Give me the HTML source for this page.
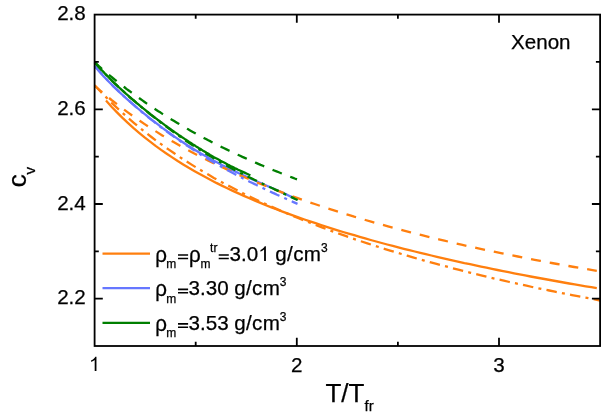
<!DOCTYPE html>
<html><head><meta charset="utf-8"><title>Xenon c_v</title>
<style>html,body{margin:0;padding:0;background:#fff}body{width:602px;height:417px;overflow:hidden;font-family:"Liberation Sans",sans-serif}</style></head>
<body>
<svg width="602" height="417" viewBox="0 0 602 417" style="display:block;will-change:transform">
<g fill="none" stroke-linecap="butt" stroke-linejoin="round">
<path d="M106.0,100.6 L111.5,106.7 L117.0,112.4 L122.5,117.9 L128.1,123.1 L133.6,128.1 L139.1,132.8 L144.6,137.4 L150.1,141.7 L155.6,145.9 L161.1,149.9 L166.7,153.7 L172.2,157.4 L177.7,161.0 L183.2,164.4 L188.7,167.8 L194.2,171.0 L199.7,174.1 L205.3,177.1 L210.8,180.0 L216.3,182.9 L221.8,185.6 L227.3,188.3 L232.8,190.9 L238.4,193.4 L243.9,195.9 L249.4,198.3 L254.9,200.6 L260.4,202.9 L265.9,205.2 L271.4,207.4 L277.0,209.5 L282.5,211.6 L288.0,213.6 L293.5,215.6 L299.0,217.6 L304.5,219.5 L310.0,221.4 L315.6,223.2 L321.1,225.0 L326.6,226.8 L332.1,228.6 L337.6,230.3 L343.1,232.0 L348.6,233.6 L354.2,235.2 L359.7,236.8 L365.2,238.4 L370.7,240.0 L376.2,241.5 L381.7,243.0 L387.2,244.5 L392.8,245.9 L398.3,247.4 L403.8,248.8 L409.3,250.2 L414.8,251.5 L420.3,252.9 L425.8,254.2 L431.4,255.5 L436.9,256.8 L442.4,258.1 L447.9,259.4 L453.4,260.6 L458.9,261.8 L464.4,263.1 L470.0,264.2 L475.5,265.4 L481.0,266.6 L486.5,267.7 L492.0,268.9 L497.5,270.0 L503.1,271.1 L508.6,272.2 L514.1,273.3 L519.6,274.4 L525.1,275.4 L530.6,276.5 L536.1,277.5 L541.7,278.5 L547.2,279.5 L552.7,280.5 L558.2,281.5 L563.7,282.5 L569.2,283.5 L574.7,284.4 L580.3,285.3 L585.8,286.3 L591.3,287.2 L596.8,288.1" stroke="#ff7f0e" stroke-width="2.3"/>
<path d="M94.6,85.2 L100.3,91.3 L106.0,97.1 L111.6,102.8 L117.3,108.2 L123.0,113.4 L128.7,118.5 L134.4,123.3 L140.1,128.0 L145.7,132.6 L151.4,137.0 L157.1,141.3 L162.8,145.4 L168.5,149.4 L174.2,153.3 L179.8,157.1 L185.5,160.8 L191.2,164.4 L196.9,167.9 L202.6,171.3 L208.3,174.6 L213.9,177.9 L219.6,181.0 L225.3,184.1 L231.0,187.1 L236.7,190.0 L242.4,192.9 L248.0,195.7 L253.7,198.5 L259.4,201.2 L265.1,203.8 L270.8,206.4 L276.5,208.9 L282.1,211.4 L287.8,213.8 L293.5,216.2 L299.2,218.5 L304.9,220.8 L310.6,223.0 L316.2,225.2 L321.9,227.4 L327.6,229.5 L333.3,231.6 L339.0,233.7 L344.7,235.7 L350.3,237.6 L356.0,239.6 L361.7,241.5 L367.4,243.4 L373.1,245.2 L378.8,247.0 L384.4,248.8 L390.1,250.6 L395.8,252.3 L401.5,254.0 L407.2,255.7 L412.9,257.3 L418.5,259.0 L424.2,260.6 L429.9,262.2 L435.6,263.7 L441.3,265.2 L447.0,266.7 L452.6,268.2 L458.3,269.7 L464.0,271.1 L469.7,272.6 L475.4,274.0 L481.1,275.3 L486.7,276.7 L492.4,278.1 L498.1,279.4 L503.8,280.7 L509.5,282.0 L515.2,283.2 L520.8,284.5 L526.5,285.7 L532.2,287.0 L537.9,288.2 L543.6,289.4 L549.3,290.5 L554.9,291.7 L560.6,292.8 L566.3,294.0 L572.0,295.1 L577.7,296.2 L583.4,297.3 L589.0,298.3 L594.7,299.4 L600.4,300.5" stroke="#ff7f0e" stroke-width="2.3" stroke-dasharray="10.5 5.25 3 5.25"/>
<path d="M94.6,65.8 L96.9,68.6 L99.2,71.3 L101.4,73.8 L103.7,76.4 L106.0,78.8 L108.3,81.2 L110.6,83.5 L112.8,85.8 L115.1,88.0 L117.4,90.2 L119.7,92.4 L122.0,94.5 L124.3,96.6 L126.5,98.6 L128.8,100.7 L131.1,102.7 L133.4,104.6 L135.7,106.6 L137.9,108.5 L140.2,110.4 L142.5,112.3 L144.8,114.2 L147.1,116.0 L149.3,117.9 L151.6,119.7 L153.9,121.4 L156.2,123.2 L158.5,124.9 L160.7,126.7 L163.0,128.4 L165.3,130.0 L167.6,131.7 L169.9,133.3 L172.2,135.0 L174.4,136.6 L176.7,138.1 L179.0,139.7 L181.3,141.2 L183.6,142.7 L185.8,144.2 L188.1,145.7 L190.4,147.1 L192.7,148.5 L195.0,149.9 L197.2,151.3 L199.5,152.7 L201.8,154.0 L204.1,155.3 L206.4,156.6 L208.6,157.9 L210.9,159.2 L213.2,160.4 L215.5,161.6 L217.8,162.8 L220.0,164.0 L222.3,165.2 L224.6,166.3 L226.9,167.5 L229.2,168.6 L231.5,169.7 L233.7,170.8 L236.0,171.9 L238.3,173.0 L240.6,174.0 L242.9,175.1 L245.1,176.1 L247.4,177.2 L249.7,178.2 L252.0,179.2 L254.3,180.2 L256.5,181.2 L258.8,182.3 L261.1,183.3 L263.4,184.3 L265.7,185.3 L267.9,186.3 L270.2,187.3 L272.5,188.3 L274.8,189.3 L277.1,190.3 L279.4,191.3 L281.6,192.4 L283.9,193.4 L286.2,194.4 L288.5,195.5 L290.8,196.6 L293.0,197.6 L295.3,198.7 L297.6,199.8" stroke="#6677ff" stroke-width="2.3"/>
<path d="M94.6,85.7 L100.2,90.6 L105.9,95.4 L111.5,100.0 L117.2,104.4 L122.8,108.7 L128.5,112.9 L134.1,116.9 L139.7,120.8 L145.4,124.6 L151.0,128.3 L156.7,131.9 L162.3,135.4 L168.0,138.8 L173.6,142.1 L179.2,145.3 L184.9,148.4 L190.5,151.4 L196.2,154.4 L201.8,157.3 L207.5,160.2 L213.1,162.9 L218.7,165.6 L224.4,168.3 L230.0,170.9 L235.7,173.4 L241.3,175.9 L247.0,178.3 L252.6,180.7 L258.2,183.0 L263.9,185.3 L269.5,187.6 L275.2,189.8 L280.8,191.9 L286.5,194.0 L292.1,196.1 L297.7,198.2 L303.4,200.2 L309.0,202.1 L314.7,204.0 L320.3,205.9 L326.0,207.8 L331.6,209.6 L337.2,211.4 L342.9,213.2 L348.5,214.9 L354.2,216.7 L359.8,218.3 L365.4,220.0 L371.1,221.6 L376.7,223.2 L382.4,224.8 L388.0,226.4 L393.7,227.9 L399.3,229.4 L404.9,230.9 L410.6,232.4 L416.2,233.8 L421.9,235.2 L427.5,236.6 L433.2,238.0 L438.8,239.4 L444.4,240.7 L450.1,242.0 L455.7,243.3 L461.4,244.6 L467.0,245.9 L472.7,247.1 L478.3,248.4 L483.9,249.6 L489.6,250.8 L495.2,251.9 L500.9,253.1 L506.5,254.3 L512.2,255.4 L517.8,256.5 L523.4,257.6 L529.1,258.7 L534.7,259.8 L540.4,260.9 L546.0,261.9 L551.7,263.0 L557.3,264.0 L562.9,265.0 L568.6,266.0 L574.2,267.0 L579.9,268.0 L585.5,268.9 L591.2,269.9 L596.8,270.8" stroke="#ff7f0e" stroke-width="2.3" stroke-dasharray="10 9"/>
<path d="M94.6,66.0 L96.9,68.6 L99.2,71.2 L101.4,73.7 L103.7,76.2 L106.0,78.6 L108.3,81.0 L110.6,83.3 L112.8,85.6 L115.1,87.9 L117.4,90.1 L119.7,92.3 L122.0,94.4 L124.2,96.5 L126.5,98.6 L128.8,100.7 L131.1,102.7 L133.4,104.7 L135.6,106.7 L137.9,108.6 L140.2,110.6 L142.5,112.5 L144.8,114.4 L147.0,116.2 L149.3,118.1 L151.6,119.9 L153.9,121.7 L156.2,123.5 L158.4,125.2 L160.7,127.0 L163.0,128.7 L165.3,130.4 L167.6,132.1 L169.8,133.7 L172.1,135.4 L174.4,137.0 L176.7,138.6 L179.0,140.2 L181.2,141.8 L183.5,143.3 L185.8,144.9 L188.1,146.4 L190.4,147.9 L192.6,149.4 L194.9,150.9 L197.2,152.3 L199.5,153.7 L201.7,155.2 L204.0,156.6 L206.3,158.0 L208.6,159.3 L210.9,160.7 L213.1,162.0 L215.4,163.4 L217.7,164.7 L220.0,166.0 L222.3,167.3 L224.5,168.5 L226.8,169.8 L229.1,171.0 L231.4,172.3 L233.7,173.5 L235.9,174.7 L238.2,175.9 L240.5,177.1 L242.8,178.2 L245.1,179.4 L247.3,180.5 L249.6,181.7 L251.9,182.8 L254.2,183.9 L256.5,185.0 L258.7,186.1 L261.0,187.2 L263.3,188.3 L265.6,189.4 L267.9,190.4 L270.1,191.5 L272.4,192.6 L274.7,193.6 L277.0,194.7 L279.3,195.7 L281.5,196.7 L283.8,197.8 L286.1,198.8 L288.4,199.8 L290.7,200.8 L292.9,201.9 L295.2,202.9 L297.5,203.9" stroke="#6677ff" stroke-width="2.3" stroke-dasharray="10.5 5.25 3 5.25" stroke-dashoffset="-1.2"/>
<path d="M94.6,62.2 L96.4,64.2 L98.1,66.2 L99.9,68.1 L101.6,70.0 L103.4,71.9 L105.1,73.7 L106.9,75.5 L108.6,77.3 L110.4,79.1 L112.1,80.8 L113.9,82.5 L115.6,84.2 L117.4,85.9 L119.1,87.5 L120.9,89.1 L122.6,90.7 L124.4,92.3 L126.1,93.9 L127.9,95.4 L129.6,97.0 L131.4,98.5 L133.1,100.0 L134.9,101.5 L136.6,103.0 L138.4,104.4 L140.1,105.9 L141.9,107.3 L143.6,108.7 L145.4,110.1 L147.1,111.5 L148.9,112.9 L150.6,114.3 L152.4,115.7 L154.1,117.0 L155.9,118.4 L157.6,119.7 L159.4,121.0 L161.1,122.3 L162.9,123.6 L164.6,124.9 L166.4,126.2 L168.1,127.5 L169.9,128.7 L171.6,130.0 L173.4,131.2 L175.1,132.4 L176.9,133.6 L178.6,134.9 L180.4,136.0 L182.1,137.2 L183.9,138.4 L185.6,139.6 L187.4,140.7 L189.1,141.9 L190.9,143.0 L192.6,144.2 L194.4,145.3 L196.1,146.4 L197.9,147.5 L199.6,148.6 L201.4,149.6 L203.1,150.7 L204.9,151.8 L206.6,152.8 L208.4,153.8 L210.1,154.9 L211.9,155.9 L213.6,156.9 L215.4,157.9 L217.1,158.8 L218.9,159.8 L220.6,160.8 L222.4,161.7 L224.1,162.6 L225.9,163.6 L227.6,164.5 L229.4,165.4 L231.1,166.3 L232.9,167.1 L234.6,168.0 L236.4,168.8 L238.1,169.7 L239.9,170.5 L241.6,171.3 L243.4,172.1 L245.1,172.9 L246.9,173.7 L248.6,174.5 L250.4,175.2" stroke="#007f00" stroke-width="2.3"/>
<path d="M94.6,62.3 L96.9,64.3 L99.1,66.4 L101.4,68.4 L103.7,70.3 L106.0,72.3 L108.2,74.2 L110.5,76.1 L112.8,78.0 L115.1,79.8 L117.3,81.7 L119.6,83.5 L121.9,85.3 L124.2,87.0 L126.4,88.8 L128.7,90.5 L131.0,92.2 L133.3,93.9 L135.5,95.5 L137.8,97.2 L140.1,98.8 L142.4,100.4 L144.6,102.0 L146.9,103.6 L149.2,105.1 L151.5,106.6 L153.7,108.2 L156.0,109.7 L158.3,111.2 L160.6,112.6 L162.8,114.1 L165.1,115.5 L167.4,116.9 L169.6,118.3 L171.9,119.7 L174.2,121.1 L176.5,122.5 L178.7,123.8 L181.0,125.2 L183.3,126.5 L185.6,127.8 L187.8,129.1 L190.1,130.4 L192.4,131.7 L194.7,132.9 L196.9,134.2 L199.2,135.4 L201.5,136.6 L203.8,137.9 L206.0,139.1 L208.3,140.3 L210.6,141.4 L212.9,142.6 L215.1,143.8 L217.4,144.9 L219.7,146.0 L222.0,147.2 L224.2,148.3 L226.5,149.4 L228.8,150.5 L231.0,151.6 L233.3,152.6 L235.6,153.7 L237.9,154.8 L240.1,155.8 L242.4,156.9 L244.7,157.9 L247.0,158.9 L249.2,159.9 L251.5,160.9 L253.8,161.9 L256.1,162.9 L258.3,163.9 L260.6,164.9 L262.9,165.8 L265.2,166.8 L267.4,167.7 L269.7,168.6 L272.0,169.6 L274.3,170.5 L276.5,171.4 L278.8,172.3 L281.1,173.2 L283.4,174.1 L285.6,175.0 L287.9,175.9 L290.2,176.7 L292.5,177.6 L294.7,178.5 L297.0,179.3" stroke="#007f00" stroke-width="2.3" stroke-dasharray="10 9"/>
<path d="M94.6,62.2 L96.9,64.8 L99.2,67.4 L101.4,69.9 L103.7,72.4 L106.0,74.7 L108.3,77.1 L110.6,79.3 L112.8,81.6 L115.1,83.8 L117.4,85.9 L119.7,88.1 L122.0,90.1 L124.3,92.2 L126.5,94.3 L128.8,96.3 L131.1,98.3 L133.4,100.2 L135.7,102.2 L137.9,104.1 L140.2,106.0 L142.5,107.9 L144.8,109.8 L147.1,111.7 L149.3,113.5 L151.6,115.3 L153.9,117.2 L156.2,118.9 L158.5,120.7 L160.7,122.5 L163.0,124.2 L165.3,125.9 L167.6,127.6 L169.9,129.3 L172.2,131.0 L174.4,132.7 L176.7,134.3 L179.0,135.9 L181.3,137.5 L183.6,139.1 L185.8,140.7 L188.1,142.2 L190.4,143.7 L192.7,145.2 L195.0,146.7 L197.2,148.2 L199.5,149.6 L201.8,151.1 L204.1,152.5 L206.4,153.9 L208.6,155.3 L210.9,156.6 L213.2,158.0 L215.5,159.3 L217.8,160.6 L220.0,161.9 L222.3,163.2 L224.6,164.5 L226.9,165.7 L229.2,167.0 L231.5,168.2 L233.7,169.4 L236.0,170.6 L238.3,171.8 L240.6,172.9 L242.9,174.1 L245.1,175.2 L247.4,176.4 L249.7,177.5 L252.0,178.6 L254.3,179.7 L256.5,180.8 L258.8,181.9 L261.1,183.0 L263.4,184.1 L265.7,185.1 L267.9,186.2 L270.2,187.3 L272.5,188.3 L274.8,189.4 L277.1,190.4 L279.4,191.5 L281.6,192.6 L283.9,193.6 L286.2,194.7 L288.5,195.7 L290.8,196.8 L293.0,197.9 L295.3,199.0 L297.6,200.0" stroke="#007f00" stroke-width="2.3" stroke-dasharray="10.5 5.25 3 5.25"/>
</g>
<g stroke="#000" stroke-width="1.8" fill="none">
<rect x="94.6" y="14.6" width="505.5" height="331.4"/>
<path d="M195.7,346.0 v-4.2 M195.7,14.6 v4.2 M296.8,346.0 v-8.2 M296.8,14.6 v8.2 M397.9,346.0 v-4.2 M397.9,14.6 v4.2 M499.0,346.0 v-8.2 M499.0,14.6 v8.2 M94.6,298.7 h8.2 M600.1,298.7 h-8.2 M94.6,251.3 h4.2 M600.1,251.3 h-4.2 M94.6,204.0 h8.2 M600.1,204.0 h-8.2 M94.6,156.6 h4.2 M600.1,156.6 h-4.2 M94.6,109.3 h8.2 M600.1,109.3 h-8.2 M94.6,61.9 h4.2 M600.1,61.9 h-4.2"/>
</g>
<g font-family="Liberation Sans, sans-serif" fill="#000" stroke="#000" stroke-width="0.25">
<text x="85.8" y="304.4" font-size="20.6" text-anchor="end">2.2</text>
<text x="85.8" y="209.7" font-size="20.6" text-anchor="end">2.4</text>
<text x="85.8" y="115.0" font-size="20.6" text-anchor="end">2.6</text>
<text x="85.8" y="20.3" font-size="20.6" text-anchor="end">2.8</text>
<path transform="translate(89.00,371.10) scale(0.00977,-0.00977)" d="M763 0H583V1147Q518 1085 412.5 1023T223 930V1104Q374 1175 487 1276T647 1472H763Z" stroke="none"/>
<text x="296.8" y="371.5" font-size="20.6" text-anchor="middle">2</text>
<text x="499.0" y="371.5" font-size="20.6" text-anchor="middle">3</text>
<text x="511.0" y="49.0" font-size="20.6">Xenon</text>
<text x="325.4" y="402.4" font-size="26">T/T</text>
<text x="364.6" y="411.4" font-size="15">fr</text>
<g transform="translate(26.4,187.2) rotate(-90)"><text x="0" y="0" font-size="26">c</text></g>
<g transform="translate(35.1,174.6) rotate(-90)"><text x="0" y="0" font-size="15">v</text></g>
<path d="M102.5,253.7 H150" stroke="#ff7f0e" stroke-width="2.2" fill="none"/>
<text y="261.0" font-size="20.6"><tspan x="229.6">3.0</tspan><tspan x="275.2" letter-spacing="0.4">g/cm</tspan></text>
<text transform="translate(155.2,261.90) scale(1,1.04)" font-size="20.6">ρ</text><text transform="translate(188.9,261.90) scale(1,1.04)" font-size="20.6">ρ</text><path stroke="none" d="M178.0,254.20h10.1v1.55h-10.1z M178.0,257.65h10.1v1.55h-10.1z"/><path stroke="none" d="M218.7,254.20h10.1v1.55h-10.1z M218.7,257.65h10.1v1.55h-10.1z"/>
<path transform="translate(258.23,261.00) scale(0.01006,-0.01006)" d="M763 0H583V1147Q518 1085 412.5 1023T223 930V1104Q374 1175 487 1276T647 1472H763Z" stroke="none"/>
<text y="268.2" font-size="12"><tspan x="166.2">m</tspan><tspan x="200.4">m</tspan></text>
<text y="251.8" font-size="12"><tspan x="210.1">tr</tspan><tspan x="321.0">3</tspan></text>
<path d="M102.5,288.2 H150" stroke="#6677ff" stroke-width="2.2" fill="none"/>
<text y="295.4" font-size="20.6"><tspan x="188.5">3.30</tspan><tspan x="234.3" letter-spacing="0.3">g/cm</tspan></text>
<text transform="translate(155.2,296.30) scale(1,1.04)" font-size="20.6">ρ</text><path stroke="none" d="M178.0,288.60h10.1v1.55h-10.1z M178.0,292.05h10.1v1.55h-10.1z"/>
<text y="302.59999999999997" font-size="12"><tspan x="166.2">m</tspan></text>
<text y="286.2" font-size="12"><tspan x="279.8">3</tspan></text>
<path d="M102.5,322.8 H150" stroke="#007f00" stroke-width="2.2" fill="none"/>
<text y="329.9" font-size="20.6"><tspan x="188.5">3.53</tspan><tspan x="234.3" letter-spacing="0.3">g/cm</tspan></text>
<text transform="translate(155.2,330.80) scale(1,1.04)" font-size="20.6">ρ</text><path stroke="none" d="M178.0,323.10h10.1v1.55h-10.1z M178.0,326.55h10.1v1.55h-10.1z"/>
<text y="337.09999999999997" font-size="12"><tspan x="166.2">m</tspan></text>
<text y="320.7" font-size="12"><tspan x="279.8">3</tspan></text>
</g>
</svg>
</body></html>
